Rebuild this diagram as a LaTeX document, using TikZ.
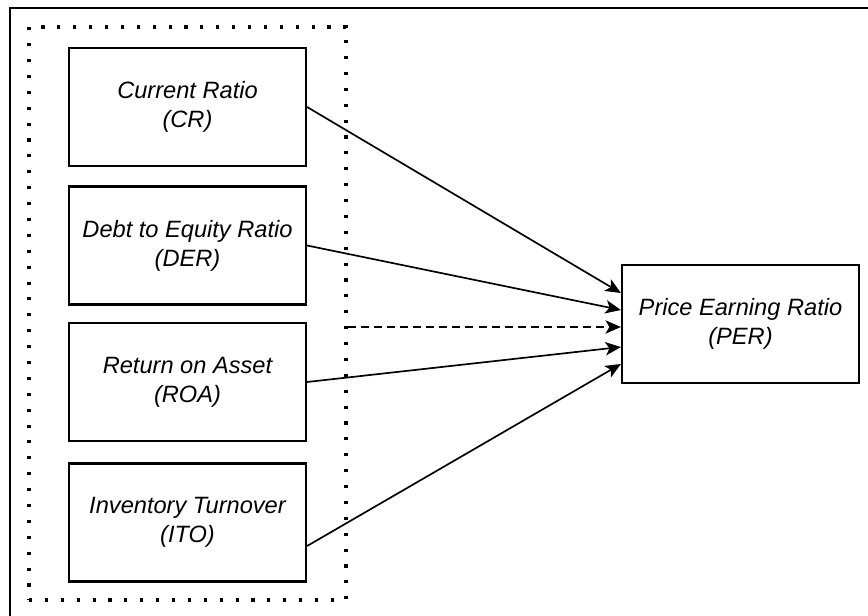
\documentclass[tikz,border=0pt]{standalone}
\usepackage{fontspec}
\setmainfont{Liberation Sans}
\usetikzlibrary{arrows.meta,positioning,calc}
\tikzset{
  ratio/.style={draw, line width=1.5pt, minimum width=5.925cm, minimum height=2.95cm,
    align=center, inner sep=0pt},
  group/.style={draw, line width=2.4pt, dash pattern=on 2.2pt off 9.1pt,
    minimum width=7.925cm, minimum height=14.325cm, inner sep=0pt},
  link/.style={line width=1.2pt, -{Stealth[length=11pt, width=9.5pt, inset=2.8pt]}},
}

\begin{document}
\begin{tikzpicture}[x=0.025cm, y=-0.025cm,
  every node/.style={font=\fontsize{16.8}{20.6}\selectfont\itshape}]
\useasboundingbox (0,0) rectangle (868,616);
% ---- outer frame
\draw[line width=1.5pt] (868,8) -- (10,8) -- (10,616);
% ---- independent variables
\node[group] (grp) at (187.5,313.5) {};
\node[ratio] (cr)  at (187.5,107)   {Current Ratio\\(CR)};
\node[ratio] (der) at (187.5,245.5) {Debt to Equity Ratio\\(DER)};
\node[ratio] (roa) at (187.5,382)   {Return on Asset\\(ROA)};
\node[ratio] (ito) at (187.5,522.5) {Inventory Turnover\\(ITO)};
% ---- dependent variable
\node[ratio] (per) at (740.5,324) {Price Earning Ratio\\(PER)};
% ---- arrows
\coordinate (in1) at ($(per.west)+(0,-31)$);
\coordinate (in2) at ($(per.west)+(0,-14)$);
\coordinate (in3) at ($(per.west)+(0,3)$);
\coordinate (in4) at ($(per.west)+(0,23)$);
\coordinate (in5) at ($(per.west)+(0,40)$);
\coordinate (out5) at ($(ito.east)+(0,23.5)$);
\draw[link] (cr.east) -- (in1);
\draw[link] (der.east) -- (in2);
\draw[link, dash pattern=on 5.7pt off 3.6pt] (grp.east |- in3) -- (in3);
\draw[link] (roa.east) -- (in4);
\draw[link] (out5) -- (in5);
\end{tikzpicture}
\end{document}
